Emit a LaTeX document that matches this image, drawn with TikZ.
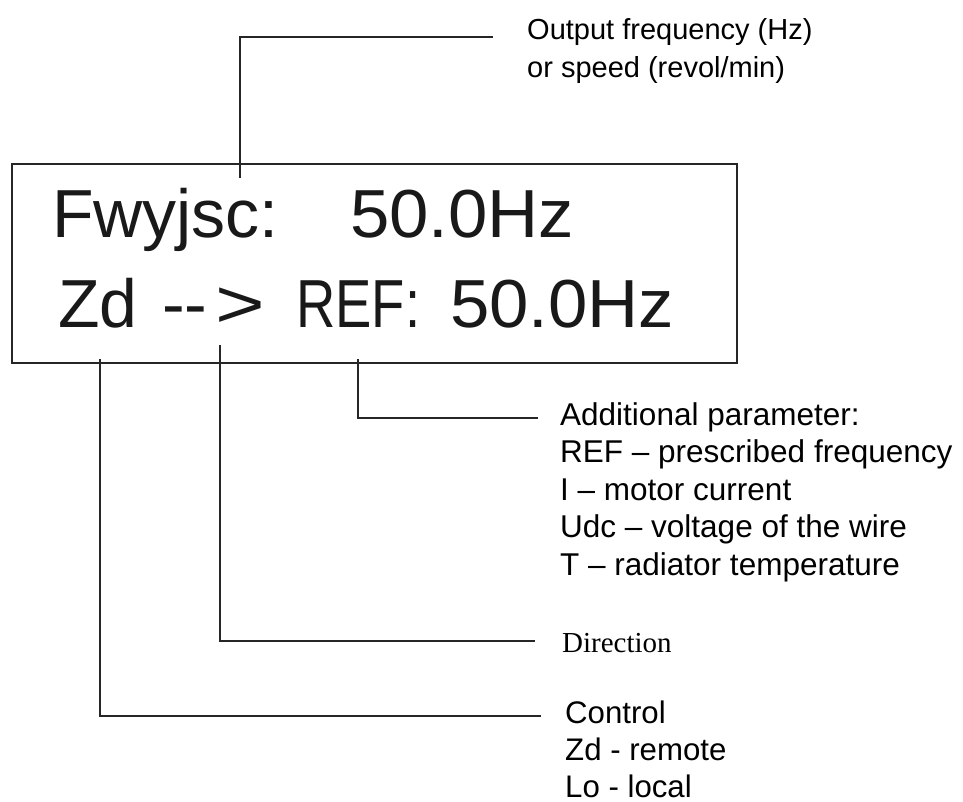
\documentclass[tikz,border=0pt]{standalone}
\usepackage{fontspec}
\setmainfont{Liberation Sans}
\newfontfamily\timesfont{Liberation Serif}
\begin{document}
\begin{tikzpicture}[x=1pt,y=-1pt,
  leader/.style={line width=1.5pt,draw=black!85},
  frame/.style={line width=1.5pt,draw=black!85},
  lcd/.style={anchor=base west,inner sep=0pt,font=\fontsize{68}{68}\selectfont,text=black!90},
  note/.style={anchor=base west,inner sep=0pt,font=\fontsize{31.5}{37}\selectfont,text=black},
  topnote/.style={note,font=\fontsize{29}{37}\selectfont},
  ctlnote/.style={note,font=\fontsize{31.2}{37}\selectfont},
  serifnote/.style={anchor=base west,inner sep=0pt,font=\timesfont\fontsize{29}{35}\selectfont,text=black}]
\useasboundingbox (0,0) rectangle (963,801);

% display window
\draw[frame] (12,164) rectangle (737,363);

% first display line
\node[lcd] (l1a) at (52,237) {Fwyjsc:};
\node[lcd] (l1b) at (350,237) {\scalebox{1.04}[1]{50.0Hz}};

% second display line
\node[lcd] (l2zd)  at (58,327)  {Zd};
\node[lcd] (l2dash) at (162,327) {-{}-};
\node[lcd] (l2gt)  at (215,327) {\scalebox{1.25}[1]{>}};
\node[lcd] (l2ref) at (296,327) {\scalebox{0.8}[1]{REF:}};
\node[lcd] (l2val) at (450,327) {\scalebox{1.04}[1]{50.0Hz}};

% explanatory labels
\node[topnote] (outA) at (527,39) {Output frequency (Hz)};
\node[topnote] (outB) at (527,77) {or speed (revol/min)};

\node[note] (parA) at (560,425)   {Additional parameter:};
\node[note] (parB) at (560,462.5) {REF – prescribed frequency};
\node[note] (parC) at (560,500)   {I – motor current};
\node[note] (parD) at (560,537.5) {Udc – voltage of the wire};
\node[note] (parE) at (560,575)   {T – radiator temperature};

\node[serifnote] (dir) at (562,652) {Direction};

\node[ctlnote] (ctlA) at (565,723)   {Control};
\node[ctlnote] (ctlB) at (565,760.5) {Zd - remote};
\node[ctlnote] (ctlC) at (565,797)   {Lo - local};

% leader end points
\coordinate (tOut) at (240,178);
\coordinate (eOut) at (493,37);
\coordinate (tPar) at (358,359);
\coordinate (ePar) at (538,418);
\coordinate (tDir) at (220,345);
\coordinate (eDir) at (535,641);
\coordinate (tCtl) at (100,359);
\coordinate (eCtl) at (541,716);

% leaders
\draw[leader] (tOut) |- (eOut);
\draw[leader] (tPar) |- (ePar);
\draw[leader] (tDir) |- (eDir);
\draw[leader] (tCtl) |- (eCtl);
\end{tikzpicture}
\end{document}
